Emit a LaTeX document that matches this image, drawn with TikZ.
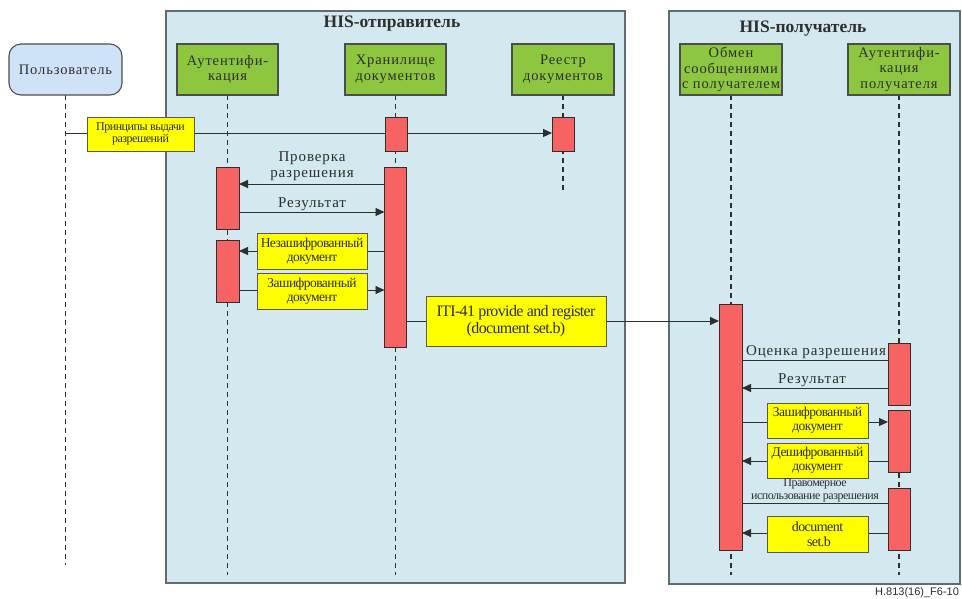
\documentclass[tikz,border=0pt]{standalone}
\usepackage{fontspec}
\setmainfont{Liberation Serif}
\newfontfamily\widefont[LetterSpace=6]{Liberation Serif}
\newfontfamily\narrowfont[LetterSpace=-4]{Liberation Serif}
\newfontfamily\footfont{Liberation Sans}
\usetikzlibrary{arrows.meta}
\pgfdeclarelayer{back}
\pgfdeclarelayer{mid}
\pgfsetlayers{back,mid,main}
\definecolor{panelfill}{HTML}{D3E9EF}
\definecolor{panelline}{HTML}{5E6C72}
\definecolor{userfill}{HTML}{CFE3F8}
\definecolor{actorfill}{HTML}{8DC63F}
\definecolor{barfill}{HTML}{F76262}
\definecolor{notefill}{HTML}{FFFF00}
\definecolor{ink}{HTML}{2E2E2E}
\tikzset{
  panel/.style={draw=panelline, line width=1.1pt, fill=panelfill, inner sep=0pt, outer sep=0pt},
  paneltitle/.style={font=\fontsize{17.5}{19}\selectfont\bfseries, text=ink},
  actorbox/.style={draw=ink!85, line width=1.1pt, fill=actorfill, align=center, inner sep=0pt, outer sep=0pt,
    minimum height=51pt, font=\widefont\fontsize{14.5}{15.5}\selectfont, text=ink},
  userbox/.style={actorbox, fill=userfill, rounded corners=12pt},
  lifeline/.style={draw=ink, line width=1.5pt, dash pattern=on 5pt off 4pt},
  actbar/.style={draw=ink, line width=0.9pt, fill=barfill, minimum width=22pt, inner sep=0pt, outer sep=0pt},
  msg/.style={draw=ink, line width=0.9pt},
  amsg/.style={msg, -{Triangle[length=9pt,width=8pt]}},
  notebox/.style={draw=ink!80, line width=0.9pt, fill=notefill, align=center, inner sep=0pt, outer sep=0pt,
    font=\narrowfont\fontsize{13.5}{14}\selectfont, text=ink},
  msglabel/.style={align=center, inner sep=0pt, font=\widefont\fontsize{15}{16}\selectfont, text=ink},
}
\begin{document}
\begin{tikzpicture}[x=1pt, y=-1pt]
\useasboundingbox (0,0) rectangle (962,598);

% system panels
\begin{pgfonlayer}{back}
\node[panel, minimum width=459pt, minimum height=572pt] (sender) at (395.5,297) {};
\node[panel, minimum width=291pt, minimum height=573pt] (receiver) at (814.5,297.5) {};
\end{pgfonlayer}
\node[paneltitle] (sendertitle) at (392,24) {HIS-отправитель};
\node[paneltitle] (receivertitle) at (803,29) {HIS-получатель};

% participants
\node[userbox, minimum width=113pt] (user) at (65.5,69.5) {Пользователь};
\node[actorbox, minimum width=101pt] (auth) at (227.5,69.5) {Аутентифи-\\кация};
\node[actorbox, minimum width=101pt] (store) at (395.5,69.5) {Хранилище\\документов};
\node[actorbox, minimum width=102pt] (reg) at (563,69.5) {Реестр\\документов};
\node[actorbox, minimum width=102pt] (xchg) at (731,69.5) {Обмен\\сообщениями\\с получателем};
\node[actorbox, minimum width=102pt] (rauth) at (899,69.5) {Аутентифи-\\кация\\получателя};

% activation bars
\node[actbar, minimum height=34pt] (s1) at (396,134) {};
\node[actbar, minimum height=34pt] (r1) at (563,134) {};
\node[actbar, minimum height=180pt] (s2) at (395.5,257) {};
\node[actbar, minimum width=23pt, minimum height=62pt] (a1) at (227.5,198) {};
\node[actbar, minimum width=23pt, minimum height=62pt] (a2) at (227.5,271) {};
\node[actbar, minimum width=23pt, minimum height=246pt] (x1) at (730.5,427) {};
\node[actbar, minimum height=62pt] (q1) at (899,374) {};
\node[actbar, minimum height=62pt] (q2) at (899,441) {};
\node[actbar, minimum height=62pt] (q3) at (899,519) {};

% message notes
\node[notebox, minimum width=107pt, minimum height=34pt, font=\narrowfont\fontsize{12}{12.5}\selectfont] (n1) at (140.5,134) {Принципы выдачи\\разрешений};
\node[notebox, minimum width=110pt, minimum height=36pt] (n4) at (312,251) {Незашифрованный\\документ};
\node[notebox, minimum width=110pt, minimum height=36pt] (n5) at (312,291) {Зашифрованный\\документ};
\node[notebox, minimum width=180pt, minimum height=50pt, font=\narrowfont\fontsize{16}{16.5}\selectfont] (n6) at (516,321) {ITI-41 provide and register\\(document set.b)};
\node[notebox, minimum width=101pt, minimum height=35pt] (n9) at (817.5,420.5) {Зашифрованный\\документ};
\node[notebox, minimum width=101pt, minimum height=35pt] (n10) at (817.5,460.5) {Дешифрованный\\документ};
\node[notebox, minimum width=101pt, minimum height=36pt, font=\narrowfont\fontsize{14}{15}\selectfont] (n12) at (817.5,534) {document\\\ set.b};

% free message labels
\node[msglabel] (l2) at (312,166.5) {Проверка\\разрешения};
\node[msglabel] (l3) at (312,204) {Результат};
\node[msglabel] (l7) at (816,352) {Оценка разрешения};
\node[msglabel] (l8) at (812,380) {Результат};
\node[msglabel, font=\narrowfont\fontsize{12}{13}\selectfont] (l11) at (815,490.5) {Правомерное\\использование разрешения};

% lifelines and messages, kept under the bars and notes
\begin{pgfonlayer}{mid}
\coordinate (userend) at (65.5,565);
\coordinate (authend) at (227.5,575);
\coordinate (storeend) at (395.5,575);
\coordinate (regend) at (563,193);
\coordinate (xchgend) at (731,575);
\coordinate (rauthend) at (899,575);
\draw[lifeline] (user.south) -- (userend);
\draw[lifeline] (auth.south) -- (authend);
\draw[lifeline] (store.south) -- (storeend);
\draw[lifeline] (reg.south) -- (regend);
\draw[lifeline] (xchg.south) -- (xchgend);
\draw[lifeline] (rauth.south) -- (rauthend);

\draw[amsg] (user.south |- 0,133) -- (r1.west |- 0,133);
\draw[amsg] (s2.west |- 0,184) -- (a1.east |- 0,184);
\draw[amsg] (a1.east |- 0,212) -- (s2.west |- 0,212);
\draw[amsg] (s2.west |- 0,251) -- (a2.east |- 0,251);
\draw[amsg] (a2.east |- 0,290) -- (s2.west |- 0,290);
\draw[amsg] (s2.east |- 0,321) -- (x1.west |- 0,321);
\draw[msg]  (x1.east |- 0,360) -- (q1.west |- 0,360);
\draw[amsg] (q1.west |- 0,388) -- (x1.east |- 0,388);
\draw[amsg] (x1.east |- 0,422) -- (q2.west |- 0,422);
\draw[amsg] (q2.west |- 0,461) -- (x1.east |- 0,461);
\draw[msg]  (q3.west |- 0,503) -- (x1.east |- 0,503);
\draw[amsg] (q3.west |- 0,533) -- (x1.east |- 0,533);
\end{pgfonlayer}

% figure reference
\node[anchor=base west, inner sep=0pt, font=\footfont\fontsize{11}{12}\selectfont, text=ink] (figref) at (875,595.5) {H.813(16)\_F6-10};
\end{tikzpicture}
\end{document}
